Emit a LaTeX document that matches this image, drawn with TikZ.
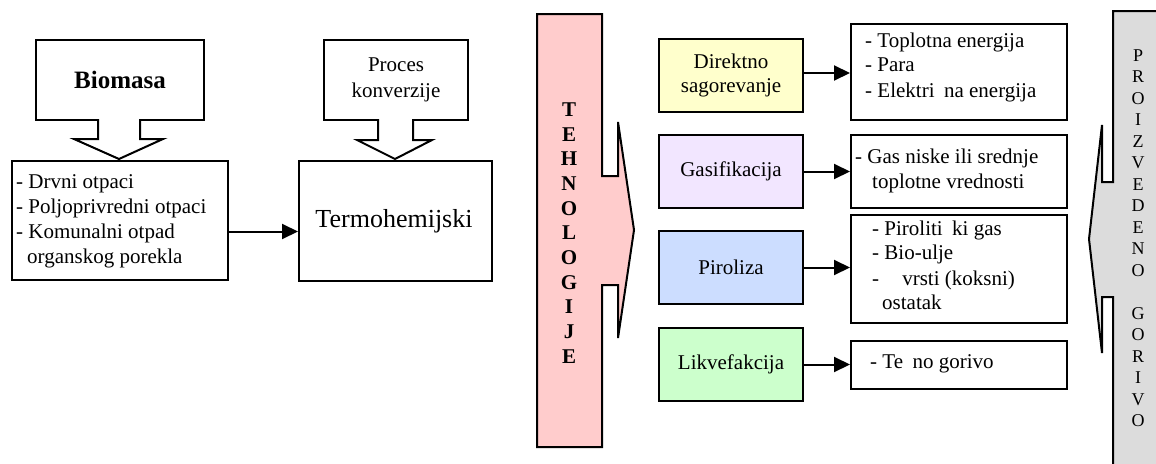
\documentclass[tikz,border=0pt]{standalone}
\usepackage{fontspec}
\setmainfont{Liberation Serif}
\usetikzlibrary{arrows.meta}
\definecolor{pinkfill}{HTML}{FFCCCC}
\definecolor{yellowfill}{HTML}{FFFFCC}
\definecolor{lilacfill}{HTML}{F2E6FF}
\definecolor{bluefill}{HTML}{CCDDFF}
\definecolor{greenfill}{HTML}{CCFFCC}
\definecolor{grayfill}{HTML}{DCDCDC}
\begin{document}
\begin{tikzpicture}[x=1pt,y=-1pt,
  frame/.style={draw, line width=2pt, fill=white, inner sep=0pt, anchor=north west},
  blockarrow/.style={draw, line width=2pt, fill=white, line join=miter},
  conn/.style={line width=2pt, -{Triangle[length=16pt,width=15pt]}},
  txt/.style={font=\fontsize{21}{25}\selectfont, inner sep=0pt},
  ltxt/.style={txt, anchor=base west},
  methodbox/.style={frame, minimum width=144pt, minimum height=73pt, align=center,
     font=\fontsize{21}{24}\selectfont},
  outbox/.style={frame, minimum width=216pt}]
\useasboundingbox (0,0) rectangle (1156,463);
\clip (0,0) rectangle (1156,463);

% ---------- left part ----------
\node[frame, minimum width=168pt, minimum height=80pt, font=\fontsize{25}{30}\selectfont\bfseries]
  (bio) at (35,39) {Biomasa};
\draw[blockarrow] (98,119) -- (98,139) -- (74,139) -- (119,159) -- (163,139) -- (140,139) -- (140,119);

\node[frame, minimum width=216pt, minimum height=119pt] (list) at (11,160) {};
\node[ltxt] (l1) at (16,188) {- Drvni otpaci};
\node[ltxt] (l2) at (16,213) {- Poljoprivredni otpaci};
\node[ltxt] (l3) at (16,238) {- Komunalni otpad};
\node[ltxt] (l4) at (27,263) {organskog porekla};

\node[frame, minimum width=144pt, minimum height=80pt, align=center, font=\fontsize{21}{26}\selectfont]
  (proc) at (323,39) {Proces\\konverzije};
\draw[blockarrow] (378,119) -- (378,140) -- (357,140) -- (395,159) -- (432,140) -- (413,140) -- (413,119);

\node[frame, minimum width=193pt, minimum height=120pt] (termo) at (298,160) {};
\node[font=\fontsize{26}{30}\selectfont, inner sep=0pt, anchor=base] (termot) at (394,227) {Termohemijski};

\draw[conn] ([yshift=-11pt]list.east) -- ([yshift=-11pt]list.east -| termo.west);

% ---------- TEHNOLOGIJE ----------
\draw[line width=2pt, fill=pinkfill, line join=miter]
  (537,14) -- (602,14) -- (602,176) -- (618,176) -- (618,122) -- (634,230)
  -- (618,338) -- (618,285) -- (602,285) -- (602,447) -- (537,447) -- cycle;
\node[align=center, inner sep=0pt, font=\fontsize{21}{24.7}\selectfont\bfseries]
  (tech) at (569,233) {T\\E\\H\\N\\O\\L\\O\\G\\I\\J\\E};

% ---------- methods ----------
\node[methodbox, fill=yellowfill] (m1) at (658,38) {Direktno\\sagorevanje};
\node[methodbox, fill=lilacfill] (m2) at (658,134) {Gasifikacija};
\node[methodbox, fill=bluefill] (m3) at (658,230) {Piroliza};
\node[methodbox, fill=greenfill] (m4) at (658,327) {Likvefakcija};

% ---------- outputs ----------
\node[outbox, minimum height=96pt] (o1) at (850,23) {};
\node[outbox, minimum height=73pt] (o2) at (850,134) {};
\node[outbox, minimum height=108pt] (o3) at (850,214) {};
\node[outbox, minimum height=48pt] (o4) at (850,340) {};

\node[ltxt] (o1a) at (865,47) {- Toplotna energija};
\node[ltxt] (o1b) at (865,71) {- Para};
\node[ltxt] (o1c) at (865,97) {- Elektri\hspace{0.45em}na energija};

\node[ltxt] (o2a) at (855,163) {- Gas niske ili srednje};
\node[ltxt] (o2b) at (872,188) {toplotne vrednosti};

\node[ltxt] (o3a) at (872,235) {- Piroliti\hspace{0.45em}ki gas};
\node[ltxt] (o3b) at (872,259) {- Bio-ulje};
\node[ltxt] (o3c) at (872,285) {-\hspace{1.1em}vrsti (koksni)};
\node[ltxt] (o3d) at (882,309) {ostatak};

\node[ltxt] (o4a) at (870,368) {- Te\hspace{0.45em}no gorivo};

\draw[conn] (m1.east |- 0,73) -- (o1.west |- 0,73);
\draw[conn] (m2.east) -- (m2.east -| o2.west);
\draw[conn] (m3.east) -- (m3.east -| o3.west);
\draw[conn] (m4.east) -- (m4.east -| o4.west);

% ---------- PROIZVEDENO GORIVO ----------
\draw[line width=2pt, fill=grayfill, line join=miter]
  (1170,11) -- (1113,11) -- (1113,182) -- (1102,182) -- (1102,125) -- (1089,239)
  -- (1102,353) -- (1102,297) -- (1113,297) -- (1113,480) -- (1170,480);
\node[align=center, inner sep=0pt, font=\fontsize{18}{21.5}\selectfont]
  (prod) at (1138,238) {P\\R\\O\\I\\Z\\V\\E\\D\\E\\N\\O\\~\\G\\O\\R\\I\\V\\O};
\end{tikzpicture}
\end{document}
